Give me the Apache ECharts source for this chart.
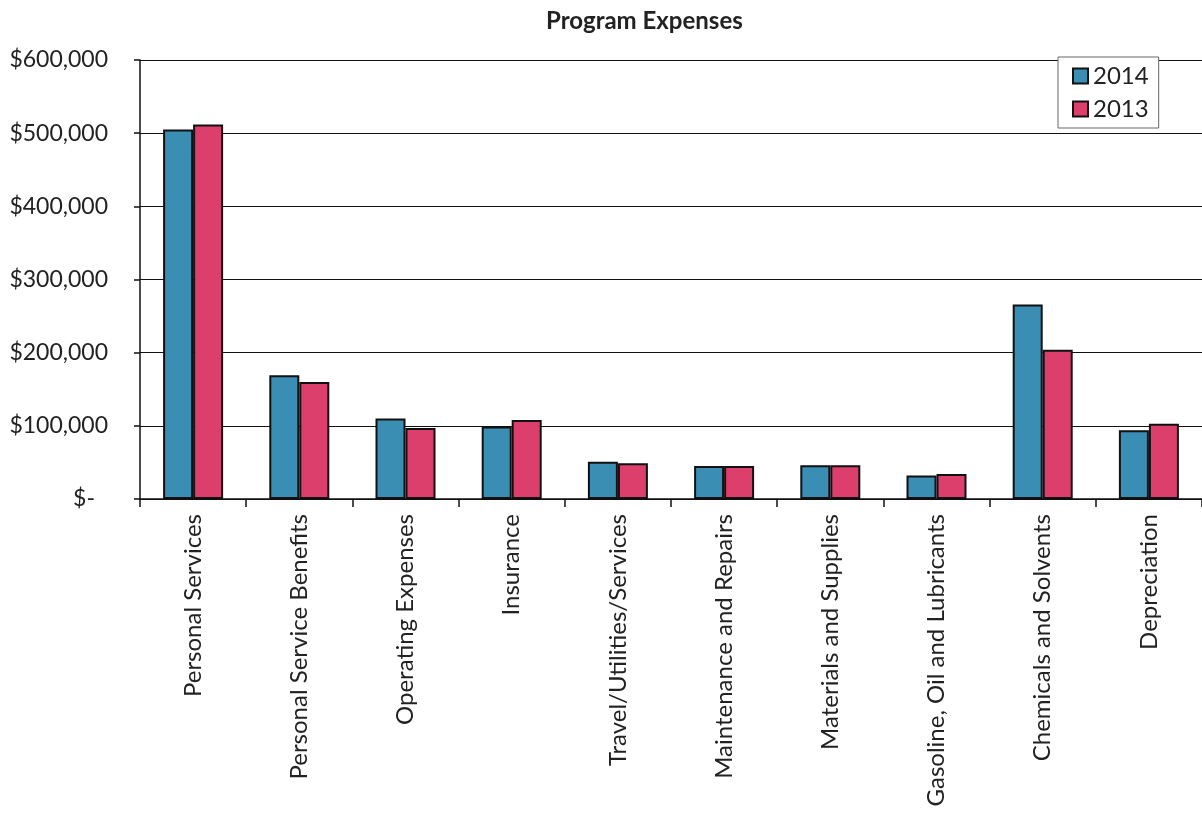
<!DOCTYPE html>
<html>
<head>
<meta charset="utf-8">
<script src="https://cdn.jsdelivr.net/npm/echarts@6/dist/echarts.min.js"></script>
<style>
html,body{margin:0;padding:0;background:#fff;}
#chart{width:1202px;height:813px;}
</style>
</head>
<body>
<div id="chart"></div>
<script>
var categories = ['Personal Services','Personal Service Benefits','Operating Expenses','Insurance','Travel/Utilities/Services','Maintenance and Repairs','Materials and Supplies','Gasoline, Oil and Lubricants','Chemicals and Solvents','Depreciation'];
var values2014 = [505000,169000,110000,99000,51000,45000,46000,32000,266000,94000];
var values2013 = [512000,160000,97000,108000,49000,45000,46000,34000,204000,103000];
var seriesNames = ['2014','2013'];
var yTicks = {min:0, max:600000, interval:100000};

var FONT = 'Lato';
var chart = echarts.init(document.getElementById('chart'));
function fmt(v){
  if (v === 0) return '{z|$-}';
  return '{n|$' + v.toLocaleString('en-US') + '}';
}
chart.setOption({
  animation:false,
  backgroundColor:'#fff',
  title:{
    text:'Program Expenses',
    left:541, top:4,
    textStyle:{fontFamily:FONT, fontWeight:'bold', fontSize:24, color:'#222'}
  },
  legend:{
    data:seriesNames,
    orient:'vertical',
    left:1058, top:57,
    padding:[7,10,7,14],
    itemGap:9,
    itemWidth:15, itemHeight:15,
    icon:'rect',
    borderColor:'#666', borderWidth:1,
    backgroundColor:'#fff',
    textStyle:{fontFamily:FONT, fontSize:24, color:'#222', padding:[0,0,0,0]}
  },
  grid:{left:140, top:60, width:1064, height:439, containLabel:false},
  xAxis:{
    type:'category',
    data:categories,
    axisLine:{lineStyle:{color:'#111', width:1.5}},
    axisTick:{show:true, length:8, lineStyle:{color:'#111', width:1.5}},
    axisLabel:{rotate:90, margin:15, fontFamily:FONT, fontSize:24, color:'#222', interval:0}
  },
  yAxis:{
    type:'value',
    min:yTicks.min, max:yTicks.max, interval:yTicks.interval,
    axisLine:{show:true, lineStyle:{color:'#111', width:1.5}},
    axisTick:{show:true, length:6, lineStyle:{color:'#111', width:1.5}},
    splitLine:{show:true, lineStyle:{color:'#111', width:1.2}},
    axisLabel:{
      margin:32, formatter:fmt,
      rich:{
        n:{fontFamily:FONT, fontSize:23, color:'#222'},
        z:{fontFamily:FONT, fontSize:23, color:'#222', padding:[0,13,0,0]}
      }
    }
  },
  series:[
    {name:seriesNames[0], type:'bar', data:values2014, barWidth:30, barGap:'0%',
     itemStyle:{color:'#3a8eb3', borderColor:'#111', borderWidth:2}},
    {name:seriesNames[1], type:'bar', data:values2013, barWidth:30, barGap:'0%',
     itemStyle:{color:'#dc3f6b', borderColor:'#111', borderWidth:2}}
  ]
});
</script>
</body>
</html>
